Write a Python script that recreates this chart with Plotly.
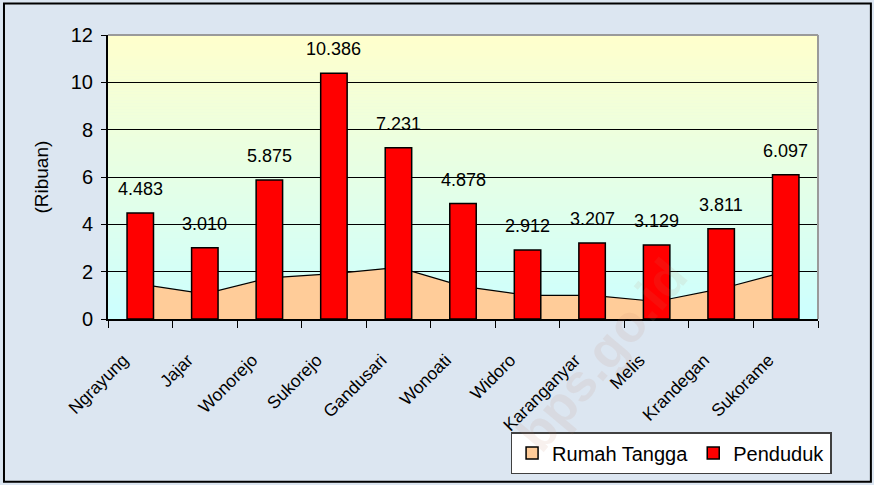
import plotly.graph_objects as go

categories = ["Ngrayung", "Jajar", "Wonorejo", "Sukorejo", "Gandusari", "Wonoati",
              "Widoro", "Karanganyar", "Melis", "Krandegan", "Sukorame"]
penduduk = [4.483, 3.010, 5.875, 10.386, 7.231, 4.878, 2.912, 3.207, 3.129, 3.811, 6.097]
rumah_tangga = [1.47, 1.06, 1.74, 1.92, 2.18, 1.38, 1.00, 1.00, 0.74, 1.28, 2.00]
penduduk_labels = [f"{v:.3f}" for v in penduduk]
y_ticks = [0, 2, 4, 6, 8, 10, 12]

FONT = "Liberation Sans, Arial, sans-serif"
PEACH = "#ffcc99"
RED = "#ff0000"

fig = go.Figure()

# area series (Rumah Tangga) on the base axes (drawn beneath the bars)
fig.add_trace(go.Scatter(
    x=categories, y=rumah_tangga, mode="lines", fill="tozeroy",
    fillcolor=PEACH, line=dict(color="#000000", width=1.2),
    name="Rumah Tangga", showlegend=False, hoverinfo="skip",
    xaxis="x", yaxis="y"))
# legend proxy for area
fig.add_trace(go.Bar(
    x=[None], y=[None], name="Rumah Tangga",
    marker=dict(color=PEACH, line=dict(color="#000000", width=1.5)),
    xaxis="x2", yaxis="y2"))
# bars (Penduduk) on overlay axes so they sit above the area
fig.add_trace(go.Bar(
    x=categories, y=penduduk, name="Penduduk", width=0.41,
    marker=dict(color=RED, line=dict(color="#000000", width=1.5)),
    xaxis="x2", yaxis="y2"))

annotations = []
for c, v, t in zip(categories, penduduk, penduduk_labels):
    annotations.append(dict(x=c, y=v, xref="x", yref="y", text=t, showarrow=False,
                            xanchor="center", yanchor="middle", yshift=24,
                            font=dict(family=FONT, size=18, color="#000000")))

annotations.append(dict(xref="paper", yref="paper", x=-0.095, y=0.5, text="(Ribuan)",
                        textangle=-90, showarrow=False, xanchor="center", yanchor="middle",
                        font=dict(family=FONT, size=19, color="#000000")))
# watermark
annotations.append(dict(xref="paper", yref="paper", x=0.695, y=-0.125, text="<b>bps.go.id</b>",
                        textangle=-50, showarrow=False, xanchor="center", yanchor="middle",
                        font=dict(family=FONT, size=52, color="rgba(190,130,100,0.11)")))

shapes = []
# vertical gradient in plot area: light cyan (bottom) -> light yellow (top)
N = 95
c0 = (0xcc, 0xff, 0xff)
c1 = (0xff, 0xff, 0xcc)
for i in range(N):
    t = (i + 0.5) / N
    col = tuple(round(a + (b - a) * t) for a, b in zip(c0, c1))
    shapes.append(dict(type="rect", xref="x domain", yref="y domain",
                       x0=0, x1=1, y0=i / N, y1=(i + 1) / N + 0.002,
                       fillcolor="rgb(%d,%d,%d)" % col, line=dict(width=0), layer="below"))
# gray top / right frame of plot area
shapes.append(dict(type="line", xref="x domain", yref="y domain", x0=0, x1=1, y0=1, y1=1,
                   line=dict(color="#9a9a9a", width=2), layer="above"))
shapes.append(dict(type="line", xref="x domain", yref="y domain", x0=1, x1=1, y0=0, y1=1,
                   line=dict(color="#9a9a9a", width=2), layer="above"))
# outer chart border
shapes.append(dict(type="rect", xref="paper", yref="paper",
                   x0=-0.1465, x1=1.0745, y0=-0.573, y1=1.111,
                   line=dict(color="#000000", width=2), fillcolor="rgba(0,0,0,0)", layer="above"))

fig.update_layout(
    width=874, height=485,
    margin=dict(l=108, r=56, t=35, b=165),
    paper_bgcolor="#dce6f1",
    plot_bgcolor="rgba(0,0,0,0)",
    barmode="overlay",
    font=dict(family=FONT, color="#000000"),
    showlegend=True,
    legend=dict(orientation="h", x=0.567, y=-0.393, xanchor="left", yanchor="top",
                bgcolor="#ffffff", bordercolor="#404040", borderwidth=1.5,
                font=dict(family=FONT, size=20, color="#000000"),
                itemwidth=30, tracegroupgap=0, traceorder="normal"),
    annotations=annotations,
    shapes=shapes,
    xaxis=dict(
        type="category", range=[-0.5, 10.5], showgrid=False, automargin=False,
        showline=True, linecolor="#000000", linewidth=2,
        ticks="outside", tickson="boundaries", ticklen=7, tickwidth=1.2, tickcolor="#000000",
        tickangle=-45, tickfont=dict(family=FONT, size=17.5, color="#000000"),
        ticklabelstandoff=22, ticklabelshift=-17,
    ),
    yaxis=dict(
        range=[0, 12], tickvals=y_ticks, showgrid=True, gridcolor="#000000", gridwidth=1,
        zeroline=False, showline=True, linecolor="#000000", linewidth=2, automargin=False,
        ticks="outside", ticklen=5, tickwidth=1.2, tickcolor="#000000",
        tickfont=dict(family=FONT, size=20, color="#000000"), ticklabelstandoff=4,
    ),
    xaxis2=dict(type="category", range=[-0.5, 10.5], overlaying="x", visible=False,
                showgrid=False),
    yaxis2=dict(range=[0, 12], overlaying="y", visible=False, showgrid=False),
)

fig.write_html("out.html", config={"displayModeBar": False},
               post_script="document.body.style.margin='0';document.body.style.padding='0';"
                           "document.documentElement.style.overflow='hidden';")
